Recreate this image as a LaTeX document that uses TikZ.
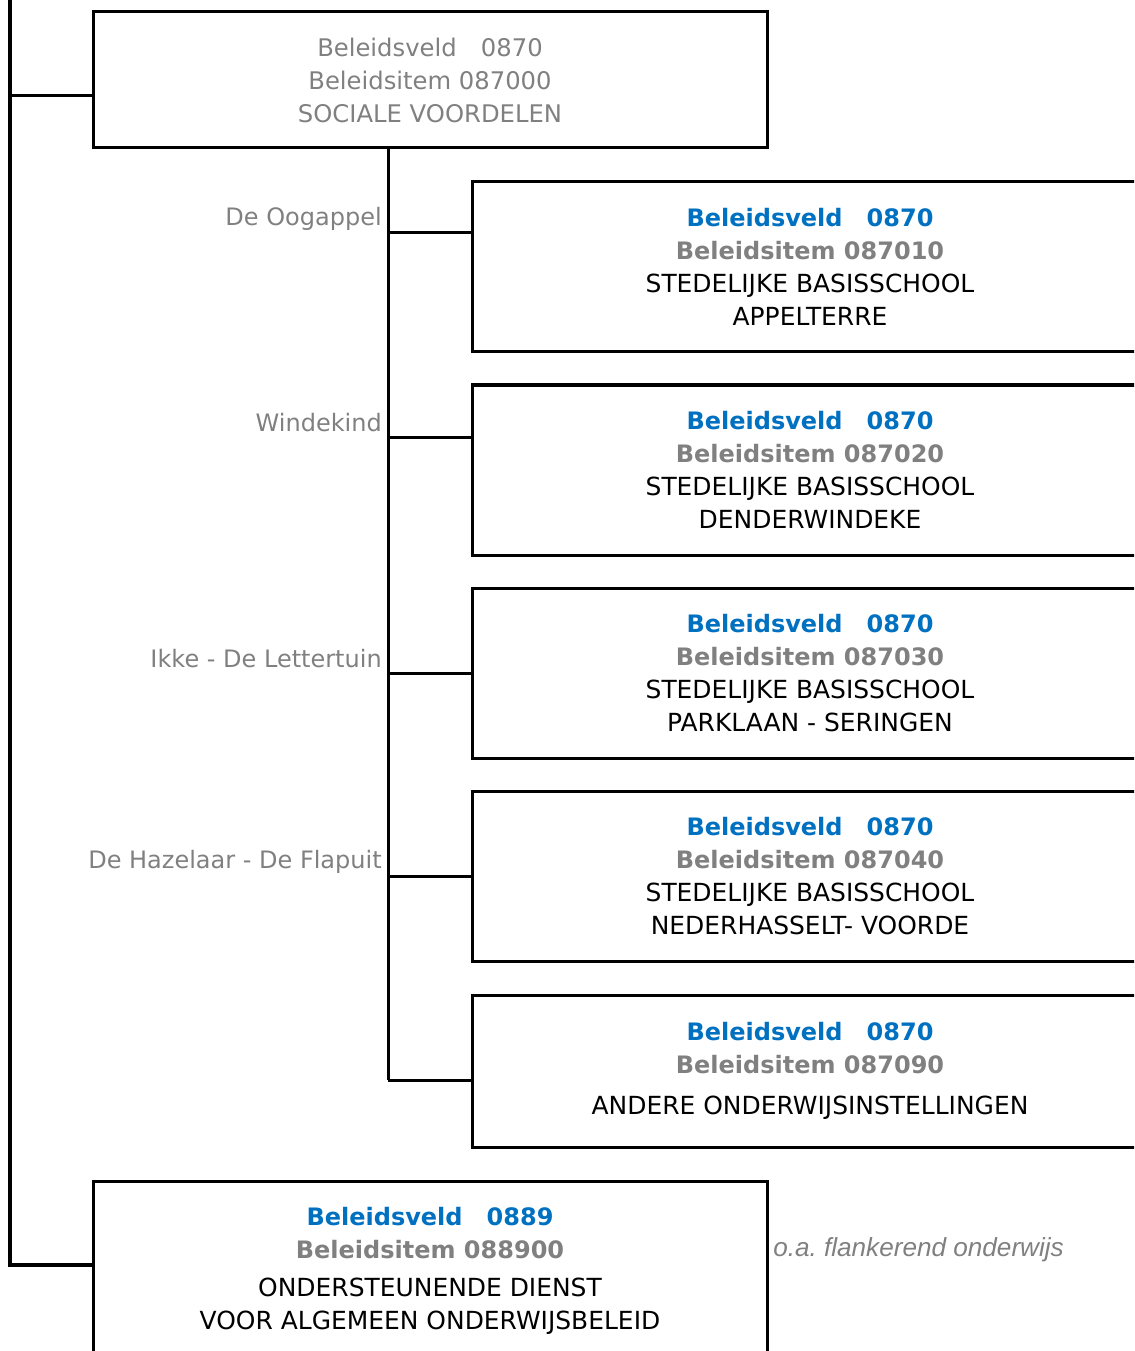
\documentclass[tikz,border=0pt]{standalone}
\usepackage{fontspec}
\setmainfont{DejaVu Sans}
\newfontfamily\notefont{Liberation Sans}
\usetikzlibrary{calc}

\definecolor{veldblue}{HTML}{0070C0}
\definecolor{itemgray}{HTML}{808080}

\newcommand{\boxfont}{\fontsize{18}{24.75}\selectfont}
\newcommand{\veldline}[1]{\textcolor{veldblue}{\bfseries Beleidsveld\hspace{1em}#1}}
\newcommand{\itemline}[1]{\textcolor{itemgray}{\bfseries Beleidsitem #1}}
\newcommand{\namefont}{\fontsize{18.7}{24.75}\selectfont}

\tikzset{
  box/.style={draw, line width=2.25pt, minimum width=507pt, minimum height=127.5pt,
    align=center, inner sep=0pt, font=\boxfont},
  conn/.style={line width=2.25pt},
  rail/.style={line width=3pt},
  school/.style={anchor=east, inner sep=0pt, text=itemgray, font=\boxfont}
}

\begin{document}
\begin{tikzpicture}[x=0.75pt,y=-0.75pt]
    \useasboundingbox (0,0) rectangle (1134,1351);
    \clip (0,0) rectangle (1134,1351);

    % top box
    \node[box, minimum width=505.5pt, minimum height=102pt, text=itemgray,
          font=\fontsize{18.2}{24.75}\selectfont] (soc) at (430,80)
        {Beleidsveld\hspace{1em}0870\\Beleidsitem 087000\\SOCIALE VOORDELEN};

    % school boxes
    \node[box] (sb1) at (810,267)
        {\veldline{0870}\\\itemline{087010}\\\namefont STEDELIJKE BASISSCHOOL\\\namefont APPELTERRE};
    \node[box] (sb2) at (810,470)
        {\veldline{0870}\\\itemline{087020}\\\namefont STEDELIJKE BASISSCHOOL\\\namefont DENDERWINDEKE};
    \node[box] (sb3) at (810,673)
        {\veldline{0870}\\\itemline{087030}\\\namefont STEDELIJKE BASISSCHOOL\\\namefont PARKLAAN - SERINGEN};
    \node[box] (sb4) at (810,876.5)
        {\veldline{0870}\\\itemline{087040}\\\namefont STEDELIJKE BASISSCHOOL\\\namefont NEDERHASSELT- VOORDE};
    \node[box, minimum height=114pt] (sb5) at (810,1071)
        {\veldline{0870}\\\itemline{087090}\\[6pt]\namefont ANDERE ONDERWIJSINSTELLINGEN};

    % bottom box
    \node[box, minimum width=505.5pt, minimum height=135pt] (ond) at (430,1271)
        {\veldline{0889}\\\itemline{088900}\\[4pt]\namefont ONDERSTEUNENDE DIENST\\\namefont VOOR ALGEMEEN ONDERWIJSBELEID};
    \node[anchor=west, inner sep=0pt, text=itemgray, font=\notefont\itshape\fontsize{19.6}{22}\selectfont]
        (note) at (773,1250) {o.a.\ flankerend onderwijs};

    % school names
    \node[school] (n1) at (382,219) {De Oogappel};
    \node[school] (n2) at (382,423) {Windekind};
    \node[school] (n3) at (382,659) {Ikke - De Lettertuin};
    \node[school] (n4) at (382,862) {De Hazelaar - De Flapuit};

    % connectors
    \coordinate (trunk) at (388,0);
    \coordinate (left) at (10,-10);
    \draw[conn] (soc.south -| trunk) -- (trunk |- 0,1080);
    \foreach \i/\cy in {1/233,2/437,3/673,4/876,5/1080}
        \draw[conn] (trunk |- 0,\cy) -- (sb\i.west |- 0,\cy);
    \draw[rail] (left) -- (left |- 0,1265) -- (ond.west |- 0,1265);
    \draw[conn] (left |- 0,96) -- ($(soc.west)+(0,16)$);
\end{tikzpicture}
\end{document}
